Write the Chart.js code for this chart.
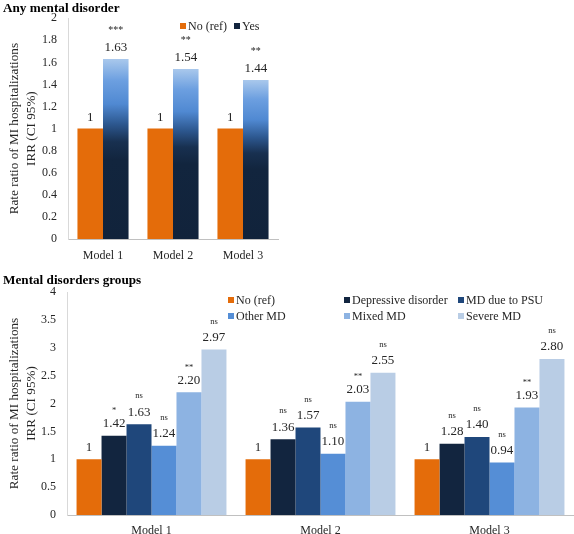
<!DOCTYPE html>
<html>
<head>
<meta charset="utf-8">
<script src="https://cdn.jsdelivr.net/npm/chart.js@4/dist/chart.umd.min.js"></script>
<style>
  body { margin: 0; background: #fff; }
  #wrap { position: relative; width: 574px; height: 534px; overflow: hidden; }
  .title { position: absolute; left: 3px; font: bold 13.2px 'Liberation Serif', serif; color: #000; }
  .box { position: absolute; left: 0; }
</style>
</head>
<body>
<div id="wrap">
  <div class="box" style="top:0;width:290px;height:262px"><canvas id="any-chart"></canvas></div>
  <div class="box" style="top:262px;width:574px;height:272px"><canvas id="groups-chart"></canvas></div>
  <div class="title" style="top:0">Any mental disorder</div>
  <div class="title" style="top:272px">Mental disorders groups</div>
</div>
<script>
// ---- data ----
const models = ['Model 1', 'Model 2', 'Model 3'];

// any mental disorder
const anyNoRef = [1, 1, 1];
const anyYes = [1.63, 1.54, 1.44];
const anyYesSig = ['***', '**', '**'];

// mental disorders groups
const grpNoRef = [1, 1, 1];
const grpDepressive = [1.42, 1.36, 1.28];
const grpDepressiveSig = ['*', 'ns', 'ns'];
const grpPsu = [1.63, 1.57, 1.40];
const grpPsuSig = ['ns', 'ns', 'ns'];
const grpOther = [1.24, 1.10, 0.94];
const grpOtherSig = ['ns', 'ns', 'ns'];
const grpMixed = [2.20, 2.03, 1.93];
const grpMixedSig = ['**', '**', '**'];
const grpSevere = [2.97, 2.55, 2.80];
const grpSevereSig = ['ns', 'ns', 'ns'];

const anyTicks = [0, 0.2, 0.4, 0.6, 0.8, 1, 1.2, 1.4, 1.6, 1.8, 2];
const grpTicks = [0, 0.5, 1, 1.5, 2, 2.5, 3, 3.5, 4];

const yTitle = ['Rate ratio of MI hospitalizations', 'IRR (CI 95%)'];

// ---- styles ----
const serif = "'Liberation Serif', 'Times New Roman', serif";
const textColor = '#262626';
const orange = '#e46c0a';
const yesStops = [
    [0, '#a9c8ec'],
    [0.12, '#6c9fe0'],
    [0.25, '#5089d2'],
    [0.36, '#2d5890'],
    [0.46, '#183050'],
    [0.56, '#12253e'],
    [1, '#11233b']
];

function yesGradient(context) {
    const {ctx, chartArea, scales} = context.chart;
    if (!chartArea || context.type !== 'data') return '#12253e';
    const top = scales.y.getPixelForValue(context.raw);
    const bottom = scales.y.getPixelForValue(0);
    const g = ctx.createLinearGradient(0, top, 0, bottom);
    yesStops.forEach(([p, c]) => g.addColorStop(p, c));
    return g;
}

// value + significance labels above each bar
const barLabels = {
    id: 'barLabels',
    afterDatasetsDraw(chart, args, opts) {
        const ctx = chart.ctx;
        ctx.save();
        ctx.textAlign = 'center';
        ctx.textBaseline = 'middle';
        chart.data.datasets.forEach((ds, i) => {
            const meta = chart.getDatasetMeta(i);
            meta.data.forEach((bar, j) => {
                const v = ds.data[j];
                ctx.fillStyle = textColor;
                ctx.font = opts.valueFont;
                ctx.fillText(v === 1 ? '1' : v.toFixed(2), bar.x, bar.y - opts.valueGap);
                if (ds.sig) {
                    const s = ds.sig[j];
                    ctx.font = opts.sigFont;
                    // asterisks sit high in the line box, push them down a bit
                    const dy = s.indexOf('*') >= 0 ? opts.starShift : 0;
                    ctx.fillText(s, bar.x, bar.y - opts.sigGap + dy);
                }
            });
        });
        ctx.restore();
    }
};

// legend drawn as small squares inside the plot, Excel style
const boxLegend = {
    id: 'boxLegend',
    afterDraw(chart, args, opts) {
        const ctx = chart.ctx;
        ctx.save();
        ctx.font = opts.textFont;
        ctx.textBaseline = 'middle';
        ctx.textAlign = 'left';
        opts.items.forEach(it => {
            const ds = chart.data.datasets[it.index];
            ctx.fillStyle = ds.legendColor || ds.backgroundColor;
            ctx.fillRect(it.x, it.y - 3, 6, 6);
            ctx.fillStyle = textColor;
            ctx.fillText(ds.label, it.x + 8, it.y + 0.5);
        });
        ctx.restore();
    }
};

const getScales = (ticks, max, yWidth, xHeight, xPad) => ({
    x: {
        grid: { display: false, drawTicks: false },
        border: { display: true, color: '#c0c0c0', width: 1 },
        ticks: { color: textColor, font: { family: serif, size: 12 }, padding: xPad },
        afterFit: s => { s.height = xHeight; }
    },
    y: {
        min: 0,
        max: max,
        grid: { display: false, drawTicks: false },
        border: { display: true, color: '#d9d9d9', width: 1 },
        afterBuildTicks: s => { s.ticks = ticks.map(v => ({ value: v })); },
        ticks: {
            color: textColor,
            font: { family: serif, size: 12 },
            padding: 11,
            callback: v => String(v)
        },
        title: {
            display: true,
            text: yTitle,
            color: textColor,
            font: { family: serif, size: 13.2, lineHeight: 1.28 },
            padding: { top: 6, bottom: 0 }
        },
        afterFit: s => { s.width = yWidth; }
    }
});

// ---- Any mental disorder ----
new Chart(document.getElementById('any-chart'), {
    type: 'bar',
    data: {
        labels: models,
        datasets: [{
            label: 'No (ref)',
            data: anyNoRef,
            backgroundColor: orange
        }, {
            label: 'Yes',
            data: anyYes,
            sig: anyYesSig,
            backgroundColor: yesGradient,
            legendColor: '#12253e'
        }]
    },
    options: {
        responsive: true,
        maintainAspectRatio: false,
        animation: false,
        events: [],
        layout: { padding: { left: 0, top: 17, right: 12, bottom: 0 } },
        datasets: { bar: { categoryPercentage: 0.73, barPercentage: 1 } },
        scales: getScales(anyTicks, 2, 68, 23, 10),
        plugins: {
            legend: { display: false },
            tooltip: { enabled: false },
            barLabels: { valueFont: '13px ' + serif, sigFont: '10px ' + serif, valueGap: 11, sigGap: 31, starShift: 2 },
            boxLegend: {
                textFont: '12px ' + serif,
                items: [{ index: 0, x: 180, y: 26 }, { index: 1, x: 234, y: 26 }]
            }
        }
    },
    plugins: [barLabels, boxLegend]
});

// ---- Mental disorders groups ----
new Chart(document.getElementById('groups-chart'), {
    type: 'bar',
    data: {
        labels: models,
        datasets: [
            { label: 'No (ref)', data: grpNoRef, backgroundColor: orange },
            { label: 'Depressive disorder', data: grpDepressive, sig: grpDepressiveSig, backgroundColor: '#12253f' },
            { label: 'MD due to PSU', data: grpPsu, sig: grpPsuSig, backgroundColor: '#1f477b' },
            { label: 'Other MD', data: grpOther, sig: grpOtherSig, backgroundColor: '#558ed6' },
            { label: 'Mixed MD', data: grpMixed, sig: grpMixedSig, backgroundColor: '#8db3e2' },
            { label: 'Severe MD', data: grpSevere, sig: grpSevereSig, backgroundColor: '#b9cde5' }
        ]
    },
    options: {
        responsive: true,
        maintainAspectRatio: false,
        animation: false,
        events: [],
        layout: { padding: { left: 0, top: 30, right: 0, bottom: 0 } },
        datasets: { bar: { categoryPercentage: 0.887, barPercentage: 1 } },
        scales: getScales(grpTicks, 4, 67, 19, 9),
        plugins: {
            legend: { display: false },
            tooltip: { enabled: false },
            barLabels: { valueFont: '13px ' + serif, sigFont: '8.5px ' + serif, valueGap: 12, sigGap: 28, starShift: 3 },
            boxLegend: {
                textFont: '12px ' + serif,
                items: [
                    { index: 0, x: 228, y: 38 }, { index: 1, x: 344, y: 38 }, { index: 2, x: 458, y: 38 },
                    { index: 3, x: 228, y: 54 }, { index: 4, x: 344, y: 54 }, { index: 5, x: 458, y: 54 }
                ]
            }
        }
    },
    plugins: [barLabels, boxLegend]
});
</script>
</body>
</html>
